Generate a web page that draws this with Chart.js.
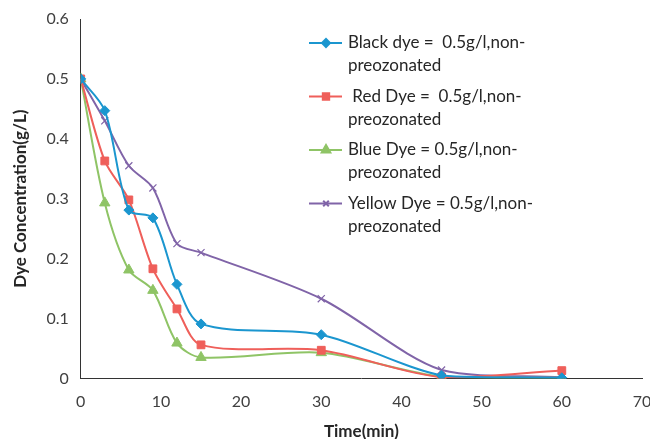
<!DOCTYPE html>
<html>
<head>
<meta charset="UTF-8" />
<title>Dye Concentration</title>
<script src="https://cdn.jsdelivr.net/npm/chart.js"></script>
<style>
  body { margin: 0; background: #fff; }
  #wrap { width: 650px; height: 439px; position: relative; }
</style>
</head>
<body>
<div id="wrap"><canvas id="chart"></canvas></div>
<script>
  const times = [0, 3, 6, 9, 12, 15, 30, 45, 60];
  const blackDye = [0.5, 0.447, 0.281, 0.268, 0.157, 0.091, 0.073, 0.005, 0.001];
  const redDye = [0.5, 0.363, 0.298, 0.183, 0.116, 0.056, 0.047, 0.002, 0.013];
  const blueDye = [0.5, 0.293, 0.181, 0.147, 0.059, 0.035, 0.043, 0.003, 0.001];
  const yellowDye = [0.5, 0.43, 0.355, 0.318, 0.225, 0.21, 0.133, 0.014, 0.002];
  const labels = [
    ['Black dye =  0.5g/l,non-', 'preozonated'],
    [' Red Dye =  0.5g/l,non-', 'preozonated'],
    ['Blue Dye = 0.5g/l,non-', 'preozonated'],
    ['Yellow Dye = 0.5g/l,non-', 'preozonated']
  ];

  const font = 'Lato, sans-serif';
  const pts = arr => arr.map((v, i) => ({ x: times[i], y: v }));

  const series = [
    { data: blackDye, color: '#1b96cf', style: 'rectRot', r: 5 },
    { data: redDye, color: '#ef5f5a', style: 'rect', r: 5.5 },
    { data: blueDye, color: '#8fc466', style: 'triangle', r: 6 },
    { data: yellowDye, color: '#8064a8', style: 'crossRot', r: 5 }
  ];

  // legend drawn on the canvas, two lines per entry
  const sideLegend = {
    id: 'sideLegend',
    afterDraw(chart) {
      const ctx = chart.ctx;
      ctx.save();
      ctx.font = '17px ' + font;
      ctx.textBaseline = 'middle';
      series.forEach((s, i) => {
        const y = 43 + i * 53.5;
        ctx.strokeStyle = s.color;
        ctx.lineWidth = 2;
        ctx.beginPath();
        ctx.moveTo(309, y);
        ctx.lineTo(342, y);
        ctx.stroke();
        ctx.fillStyle = s.color;
        ctx.strokeStyle = s.color;
        Chart.helpers.drawPoint(ctx, { pointStyle: s.style, radius: s.r - 1, borderWidth: 1 }, 326, y);
        ctx.fillStyle = '#262626';
        ctx.fillText(labels[i][0], 348, y);
        ctx.fillText(labels[i][1], 348, y + 23);
      });
      ctx.restore();
    }
  };

  new Chart(document.getElementById('chart'), {
    type: 'line',
    data: {
      datasets: series.map((s, i) => ({
        label: labels[i].join(' '),
        data: pts(s.data),
        borderColor: s.color,
        backgroundColor: s.color,
        borderWidth: 2,
        pointStyle: s.style,
        pointRadius: s.r,
        pointBorderWidth: s.style === 'crossRot' ? 1.2 : 1,
        tension: 0.3
      }))
    },
    options: {
      responsive: true,
      maintainAspectRatio: false,
      animation: false,
      layout: { padding: { top: 19, right: 8, left: 6, bottom: -6 } },
      plugins: { legend: { display: false }, tooltip: { enabled: false } },
      scales: {
        x: {
          type: 'linear',
          min: 0, max: 70,
          afterFit: s => { s.paddingLeft = 0; s.paddingRight = 0; },
          ticks: { stepSize: 10, color: '#404040', font: { family: font, size: 16 }, padding: 14 },
          grid: { display: false, drawTicks: false },
          border: { color: '#333', width: 1 },
          title: { display: true, text: 'Time(min)', color: '#262626', font: { family: font, size: 17, weight: 'bold' }, padding: { top: -4, bottom: 3 } }
        },
        y: {
          min: 0, max: 0.6,
          afterFit: s => { s.paddingTop = 0; s.paddingBottom = 0; },
          ticks: { stepSize: 0.1, color: '#404040', font: { family: font, size: 16 }, padding: 12 },
          grid: { display: false, drawTicks: false },
          border: { color: '#333', width: 1 },
          title: { display: true, text: 'Dye Concentration(g/L)', color: '#262626', font: { family: font, size: 17, weight: 'bold' }, padding: { top: 4, bottom: 4 } }
        }
      }
    },
    plugins: [sideLegend]
  });
</script>
</body>
</html>
